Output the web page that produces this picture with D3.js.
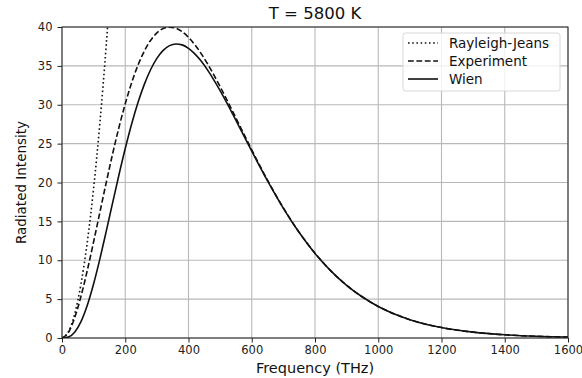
<!DOCTYPE html>
<html>
<head>
<meta charset="utf-8">
<script src="https://cdn.jsdelivr.net/npm/d3@7"></script>
<style>
  body { margin: 0; background: #fff; }
  svg { font-family: "DejaVu Sans", sans-serif; }
</style>
</head>
<body>
<div id="chart"></div>
<script>
// values (frequency in THz)
const freq = [0, 20, 40, 60, 80, 100, 120, 140, 160, 180, 200, 220, 240, 260, 280, 300, 320, 340, 360, 380, 400,
  420, 440, 460, 480, 500, 520, 540, 560, 580, 600, 650, 700, 750, 800, 850, 900, 950, 1000, 1100, 1200, 1300, 1400, 1500, 1600];
const experiment = [0, 0.71, 2.60, 5.36, 8.70, 12.38, 16.21, 20.02, 23.68, 27.07, 30.13, 32.81, 35.06, 36.88, 38.27, 39.24, 39.80, 39.99, 39.85, 39.39, 38.67,
  37.72, 36.58, 35.28, 33.85, 32.33, 30.74, 29.12, 27.47, 25.83, 24.20, 20.29, 16.73, 13.59, 10.90, 8.64, 6.78, 5.27, 4.06, 2.36, 1.34, 0.75, 0.41, 0.22, 0.12];
const wien = [0, 0.11, 0.73, 2.10, 4.21, 6.97, 10.21, 13.74, 17.38, 20.97, 24.37, 27.49, 30.25, 32.59, 34.50, 35.96, 36.99, 37.60, 37.82, 37.70, 37.26,
  36.55, 35.62, 34.49, 33.21, 31.81, 30.33, 28.78, 27.20, 25.61, 24.03, 20.20, 16.68, 13.56, 10.88, 8.63, 6.77, 5.27, 4.06, 2.36, 1.34, 0.75, 0.41, 0.22, 0.12];
const rjFreq = [0, 20, 40, 60, 80, 100, 120, 140, 150];
const rayleigh = [0, 0.77, 3.08, 6.94, 12.33, 19.27, 27.75, 37.76, 43.35];

const xTicks = [0, 200, 400, 600, 800, 1000, 1200, 1400, 1600];
const yTicks = [0, 5, 10, 15, 20, 25, 30, 35, 40];

const width = 582, height = 378;
const margin = {top: 27, right: 14, bottom: 40, left: 62};
const w = width - margin.left - margin.right;
const h = height - margin.top - margin.bottom;

const svg = d3.select('#chart').append('svg')
  .attr('width', width)
  .attr('height', height);

const g = svg.append('g')
  .attr('transform', `translate(${margin.left},${margin.top})`);

const x = d3.scaleLinear().domain([0, 1600]).range([0, w]);
const y = d3.scaleLinear().domain([0, 40]).range([h, 0]);

// grid
g.append('g').selectAll('line')
  .data(xTicks)
  .join('line')
    .attr('x1', d => x(d)).attr('x2', d => x(d))
    .attr('y1', 0).attr('y2', h)
    .attr('stroke', '#b8b8b8').attr('stroke-width', 1.1);
g.append('g').selectAll('line')
  .data(yTicks)
  .join('line')
    .attr('x1', 0).attr('x2', w)
    .attr('y1', d => y(d)).attr('y2', d => y(d))
    .attr('stroke', '#b8b8b8').attr('stroke-width', 1.1);

// axes
const xAxis = g.append('g')
  .attr('transform', `translate(0,${h})`)
  .call(d3.axisBottom(x).tickValues(xTicks).tickFormat(d3.format('d')).tickSize(4.5).tickPadding(3.5));
const yAxis = g.append('g')
  .call(d3.axisLeft(y).tickValues(yTicks).tickSize(4.5).tickPadding(5));

[xAxis, yAxis].forEach(a => {
  a.selectAll('text').attr('font-size', 11.5).attr('fill', '#222').attr('font-family', '"DejaVu Sans", sans-serif');
  a.selectAll('line').attr('stroke', '#222').attr('stroke-width', 1);
  a.select('.domain').remove();
});

// clip
svg.append('defs').append('clipPath').attr('id', 'clip')
  .append('rect').attr('width', w).attr('height', h);

const line = d3.line()
  .x(d => x(d[0]))
  .y(d => y(d[1]))
  .curve(d3.curveMonotoneX);

const plot = g.append('g').attr('clip-path', 'url(#clip)');

plot.append('path')
  .datum(rjFreq.map((f, i) => [f, rayleigh[i]]))
  .attr('d', line)
  .attr('fill', 'none').attr('stroke', '#111').attr('stroke-width', 1.6)
  .attr('stroke-dasharray', '1.6,2.6');

plot.append('path')
  .datum(freq.map((f, i) => [f, experiment[i]]))
  .attr('d', line)
  .attr('fill', 'none').attr('stroke', '#111').attr('stroke-width', 1.6)
  .attr('stroke-dasharray', '5.8,2.6');

plot.append('path')
  .datum(freq.map((f, i) => [f, wien[i]]))
  .attr('d', line)
  .attr('fill', 'none').attr('stroke', '#111').attr('stroke-width', 1.6);

// frame
g.append('rect')
  .attr('width', w).attr('height', h)
  .attr('fill', 'none').attr('stroke', '#222').attr('stroke-width', 1);

// title & labels
svg.append('text')
  .attr('x', margin.left + w / 2).attr('y', 19)
  .attr('text-anchor', 'middle').attr('font-size', 16.5).attr('fill', '#111')
  .text('T = 5800 K');

svg.append('text')
  .attr('x', margin.left + w / 2).attr('y', 373)
  .attr('text-anchor', 'middle').attr('font-size', 14.5).attr('fill', '#111')
  .text('Frequency (THz)');

svg.append('text')
  .attr('transform', `translate(26,${margin.top + h / 2}) rotate(-90)`)
  .attr('text-anchor', 'middle').attr('font-size', 13.5).attr('fill', '#111')
  .text('Radiated Intensity');

// legend
const legendItems = [
  {label: 'Rayleigh-Jeans', dash: '1.6,2.6'},
  {label: 'Experiment', dash: '5.8,2.6'},
  {label: 'Wien', dash: null}
];
const lg = g.append('g').attr('transform', `translate(${w - 165},6)`);
lg.append('rect')
  .attr('width', 157).attr('height', 58).attr('rx', 2.5)
  .attr('fill', '#fff').attr('fill-opacity', 0.8)
  .attr('stroke', '#d8d8d8').attr('stroke-width', 1);
const items = lg.selectAll('g.item')
  .data(legendItems)
  .join('g')
    .attr('class', 'item')
    .attr('transform', (d, i) => `translate(0,${10 + i * 18})`);
items.append('line')
  .attr('x1', 5).attr('x2', 35).attr('y1', 0).attr('y2', 0)
  .attr('stroke', '#111').attr('stroke-width', 1.6)
  .attr('stroke-dasharray', d => d.dash);
items.append('text')
  .attr('x', 46).attr('y', 5)
  .attr('font-size', 13.5).attr('fill', '#111')
  .text(d => d.label);
</script>
</body>
</html>
